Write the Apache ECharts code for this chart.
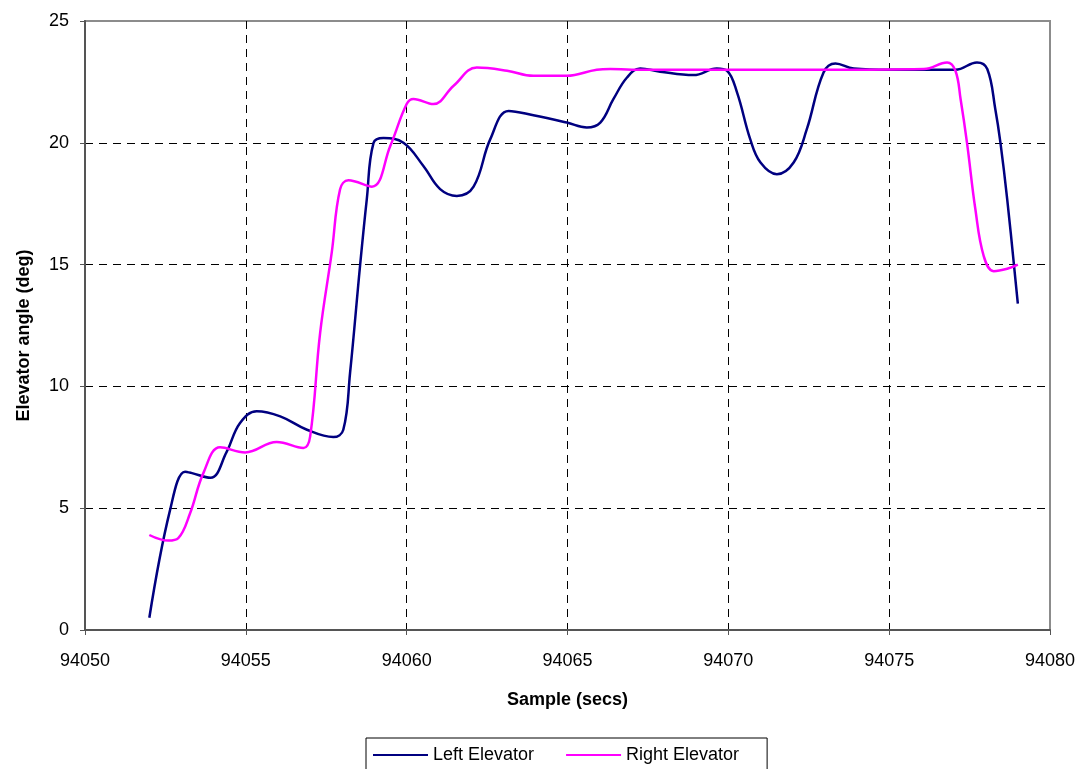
<!DOCTYPE html>
<html>
<head>
<meta charset="utf-8">
<script src="https://cdn.jsdelivr.net/npm/echarts@6/dist/echarts.min.js"></script>
<style>
html,body{margin:0;padding:0;background:#fff;}
#c{width:1081px;height:769px;}
</style>
</head>
<body>
<div id="c"></div>
<script>
// Left Elevator samples
var leftX = [94052.0, 94052.64, 94053.11, 94053.3, 94053.9, 94054.4, 94054.82, 94055.34, 94056.07, 94056.9, 94057.72, 94058.03, 94058.24, 94058.55, 94058.76, 94058.97, 94059.28, 94059.9, 94060.52, 94061.04, 94061.56, 94062.08, 94062.6, 94063.17, 94063.94, 94064.98, 94065.6, 94066.02, 94066.43, 94066.85, 94067.26, 94067.88, 94068.92, 94069.64, 94069.96, 94070.27, 94070.68, 94071.0, 94071.51, 94072.03, 94072.44, 94072.96, 94073.33, 94073.9, 94075.0, 94076.0, 94077.06, 94077.73, 94078.05, 94078.3, 94078.46, 94078.67, 94079.0];
var leftY = [0.5, 4.9, 6.5, 6.45, 6.25, 7.3, 8.5, 8.98, 8.77, 8.22, 7.92, 8.22, 10.55, 14.94, 17.68, 20.0, 20.2, 20.0, 19.05, 18.1, 17.82, 18.2, 20.15, 21.31, 21.13, 20.83, 20.63, 20.83, 21.8, 22.68, 23.05, 22.92, 22.78, 23.05, 22.96, 22.07, 20.15, 19.19, 18.71, 19.19, 20.56, 22.89, 23.26, 23.05, 23.0, 23.0, 23.0, 23.3, 23.03, 21.38, 20.0, 17.68, 13.4];
// Right Elevator samples
var rightX = [94052.0, 94052.59, 94052.9, 94053.27, 94053.68, 94054.2, 94054.98, 94055.96, 94056.79, 94057.0, 94057.31, 94057.67, 94057.93, 94058.19, 94058.92, 94059.49, 94060.0, 94060.21, 94060.83, 94061.46, 94062.18, 94063.12, 94063.94, 94064.98, 94065.91, 94066.33, 94067.0, 94070.0, 94073.0, 94076.08, 94076.8, 94077.06, 94077.22, 94077.42, 94077.68, 94077.94, 94078.25, 94078.67, 94079.0];
var rightY = [3.9, 3.67, 3.77, 4.8, 6.44, 7.5, 7.29, 7.72, 7.47, 7.95, 12.2, 15.49, 18.09, 18.46, 18.2, 19.87, 21.59, 21.8, 21.59, 22.34, 23.09, 22.96, 22.75, 22.75, 23.0, 23.03, 23.0, 23.0, 23.0, 23.03, 23.3, 22.96, 21.8, 20.0, 17.27, 15.35, 14.73, 14.83, 15.0];
var seriesNames = ['Left Elevator', 'Right Elevator'];
var xTitle = 'Sample (secs)';
var yTitle = 'Elevator angle (deg)';

function pairs(xs, ys) { return xs.map(function (x, i) { return [x, ys[i]]; }); }

var FONT = '"Liberation Sans", Arial, sans-serif';
var chart = echarts.init(document.getElementById('c'), null, {renderer: 'canvas'});
chart.setOption({
  animation: false,
  backgroundColor: '#ffffff',
  grid: {left: 85, right: 31, top: 21, bottom: 139, show: true, borderColor: '#8c8c8c', borderWidth: 2, backgroundColor: 'transparent'},
  legend: {
    data: seriesNames,
    left: 366, top: 738,
    orient: 'horizontal',
    icon: 'rect', itemWidth: 55, itemHeight: 2, itemGap: 32,
    padding: [8, 28, 10, 7],
    borderColor: '#000', borderWidth: 1,
    textStyle: {fontFamily: FONT, fontSize: 18, color: '#000'}
  },
  xAxis: {
    type: 'value', min: 94050, max: 94080, interval: 5,
    name: xTitle, nameLocation: 'middle', nameGap: 61,
    nameTextStyle: {fontFamily: FONT, fontSize: 18, fontWeight: 'bold', color: '#000'},
    axisLine: {show: true, lineStyle: {color: '#555', width: 2}},
    axisTick: {show: true, length: 5, lineStyle: {color: '#555'}},
    axisLabel: {fontFamily: FONT, fontSize: 18, color: '#000', margin: 22, formatter: function (v) { return String(v); }},
    splitLine: {show: true, showMinLine: false, showMaxLine: false, lineStyle: {color: '#000', type: [8, 6], width: 1}}
  },
  yAxis: {
    type: 'value', min: 0, max: 25, interval: 5,
    name: yTitle, nameLocation: 'middle', nameGap: 52, nameRotate: 90,
    nameTextStyle: {fontFamily: FONT, fontSize: 18, fontWeight: 'bold', color: '#000', padding: [0, 20, 0, 0]},
    axisLine: {show: true, lineStyle: {color: '#555', width: 2}},
    axisTick: {show: true, length: 5, lineStyle: {color: '#555'}},
    axisLabel: {fontFamily: FONT, fontSize: 18, color: '#000', margin: 16, formatter: function (v) { return String(v); }},
    splitLine: {show: true, showMinLine: false, showMaxLine: false, lineStyle: {color: '#000', type: [8, 6], width: 1}}
  },
  series: [
    {name: seriesNames[0], type: 'line', data: pairs(leftX, leftY), smooth: 0.4, showSymbol: false, symbol: 'none',
     lineStyle: {color: '#000080', width: 2.5}, itemStyle: {color: '#000080'}},
    {name: seriesNames[1], type: 'line', data: pairs(rightX, rightY), smooth: 0.4, showSymbol: false, symbol: 'none',
     lineStyle: {color: '#FF00FF', width: 2.5}, itemStyle: {color: '#FF00FF'}}
  ]
});
</script>
</body>
</html>
